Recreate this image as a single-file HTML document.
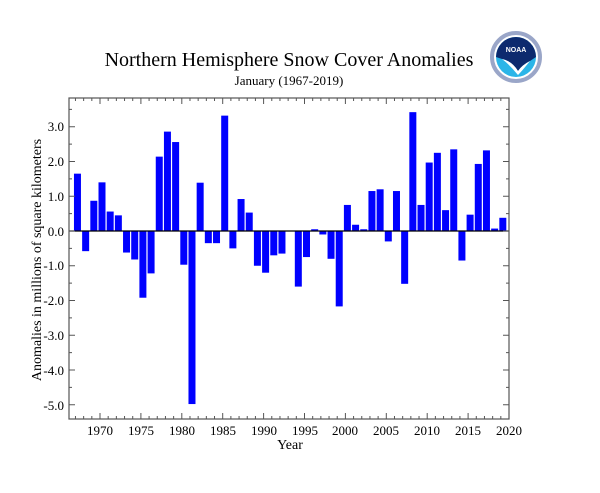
<!DOCTYPE html>
<html><head><meta charset="utf-8"><style>
body{margin:0;background:#fff;}
svg{display:block;font-family:"Liberation Serif",serif;}
</style></head><body>
<svg id="s" width="600" height="493" xmlns="http://www.w3.org/2000/svg">
<rect width="600" height="493" fill="#fff"/>
<text x="289" y="66" font-size="20" text-anchor="middle">Northern Hemisphere Snow Cover Anomalies</text>
<text x="289" y="85" font-size="13" text-anchor="middle">January (1967-2019)</text>
<text x="290" y="449" font-size="14" text-anchor="middle">Year</text>
<text transform="translate(41,260) rotate(-90)" font-size="14" text-anchor="middle">Anomalies in millions of square kilometers</text>
<g font-size="13" text-anchor="end">
<text x="64" y="131">3.0</text><text x="64" y="166">2.0</text><text x="64" y="201">1.0</text><text x="64" y="236">0.0</text>
<text x="64" y="270">-1.0</text><text x="64" y="305">-2.0</text><text x="64" y="340">-3.0</text><text x="64" y="375">-4.0</text><text x="64" y="410">-5.0</text>
</g>
<g font-size="13" text-anchor="middle">
<text x="100" y="435">1970</text><text x="141" y="435">1975</text><text x="182" y="435">1980</text><text x="223" y="435">1985</text>
<text x="264" y="435">1990</text><text x="305" y="435">1995</text><text x="345" y="435">2000</text><text x="386" y="435">2005</text>
<text x="427" y="435">2010</text><text x="468" y="435">2015</text><text x="509" y="435">2020</text>
</g>
<g id="bars" fill="#0000ff"></g>
<line x1="69" y1="231" x2="509" y2="231" stroke="#000" stroke-width="1.3"/>
<g id="ticks" stroke="#555" stroke-width="1"></g>
<rect x="69" y="98" width="440" height="321" fill="none" stroke="#555" stroke-width="1.2"/>
<g transform="translate(516,57)">
<circle r="27" fill="#fff"/>
<circle r="24" fill="none" stroke="#9aa6c8" stroke-width="4"/>
<circle r="20" fill="#2bb5e8"/>
<path d="M-20,0 A20,20 0 0 1 20,0 L14,4 Q6,8 2,14 Q-4,4 -14,2 Z" fill="#0d2a6e"/>
<path d="M-14,2 Q-4,4 2,14 Q6,8 14,4 Q6,14 2,18 Q-6,8 -14,2Z" fill="#fff"/>
<text x="0" y="-5" font-family="Liberation Sans,sans-serif" font-size="7" font-weight="bold" fill="#fff" text-anchor="middle">NOAA</text>
</g>
</svg>
<script>
var d=[1.65,-0.58,0.87,1.40,0.56,0.45,-0.62,-0.82,-1.92,-1.22,2.14,2.86,2.56,-0.97,-4.98,1.39,-0.35,-0.35,3.32,-0.5,0.92,0.53,-1.0,-1.2,-0.7,-0.65,0,-1.6,-0.75,0.05,-0.1,-0.8,-2.17,0.75,0.18,0.05,1.15,1.2,-0.3,1.15,-1.52,3.42,0.75,1.97,2.25,0.6,2.35,-0.85,0.47,1.93,2.32,0.07,0.38];
var ns="http://www.w3.org/2000/svg",b=document.getElementById("bars"),t=document.getElementById("ticks");
function X(y){return 100+(y-1970)*8.18;}
function Y(v){return 231-v*34.75;}
function el(p,n,a){var e=document.createElementNS(ns,n);for(var k in a)e.setAttribute(k,a[k]);p.appendChild(e);}
d.forEach(function(v,i){var yr=1967+i,x=X(yr)-1.5,y0=Y(Math.max(v,0)),h=Math.abs(v)*34.75;el(b,"rect",{x:x,y:y0,width:7,height:h});});
for(var yr=1967;yr<=2019;yr++){var x=X(yr),L=(yr%5==0)?6:3;el(t,"line",{x1:x,y1:419,x2:x,y2:419-L});el(t,"line",{x1:x,y1:98,x2:x,y2:98+L});}
for(var v=-5.0;v<=3.5;v+=0.5){var y=Y(v),L=(Math.abs(v%1)<0.01)?6:3;el(t,"line",{x1:69,y1:y,x2:69+L,y2:y});el(t,"line",{x1:509,y1:y,x2:509-L,y2:y});}
</script>
</body></html>
